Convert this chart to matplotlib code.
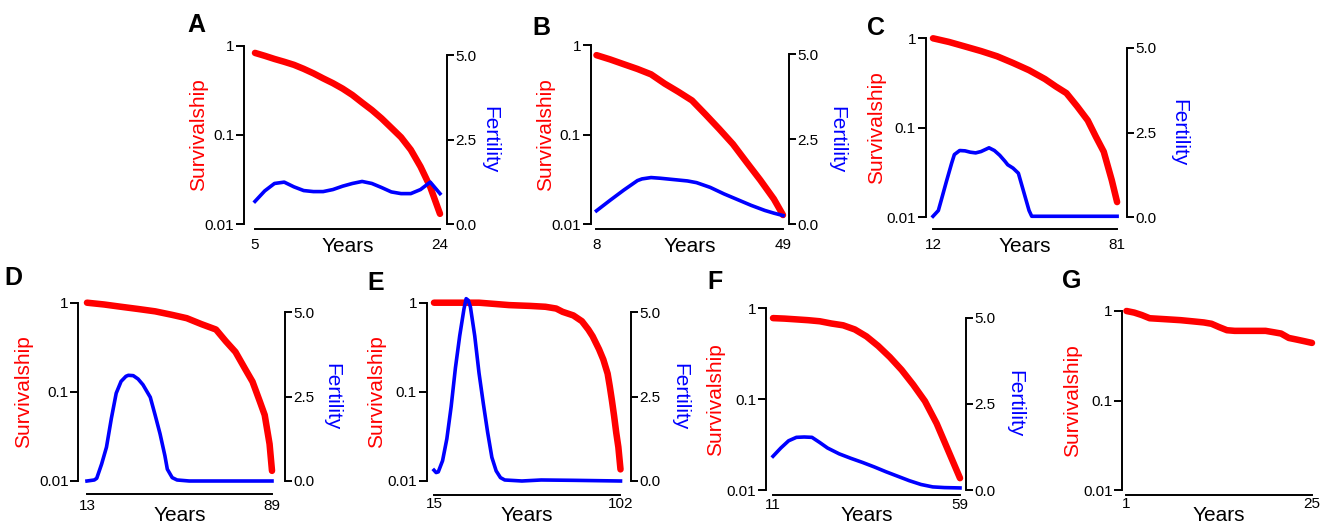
import numpy as np
import matplotlib
matplotlib.use("Agg")
import matplotlib.pyplot as plt
from matplotlib.ticker import NullLocator
from matplotlib.transforms import ScaledTranslation, blended_transform_factory

plt.rcParams['font.family'] = ['Liberation Sans', 'DejaVu Sans']

# ---- data ----
# A
a_years = list(range(5, 25))
a_surv = [0.83, 0.77, 0.71, 0.66, 0.61, 0.55, 0.49, 0.43, 0.38, 0.33,
          0.28, 0.23, 0.19, 0.153, 0.12, 0.094, 0.068, 0.044, 0.026, 0.013]
a_fert = [0.67, 0.98, 1.2, 1.24, 1.1, 0.99, 0.96, 0.96, 1.02, 1.12,
          1.2, 1.26, 1.2, 1.08, 0.95, 0.9, 0.9, 1.02, 1.24, 0.9]

# B
b_surv_years = [8, 11, 14, 17, 20, 23, 26, 29, 32, 35, 38, 41, 44, 47, 49]
b_surv = [0.77, 0.69, 0.61, 0.54, 0.47, 0.37, 0.30, 0.24, 0.167, 0.115,
          0.078, 0.049, 0.031, 0.019, 0.0126]
b_fert_years = [8, 11, 14, 17, 18, 20, 22, 25, 28, 30, 33, 36, 39, 42, 45, 47, 49]
b_fert = [0.39, 0.70, 1.0, 1.28, 1.33, 1.37, 1.35, 1.31, 1.27, 1.22,
          1.08, 0.89, 0.72, 0.55, 0.4, 0.32, 0.25]

# C
c_surv_years = [12, 18, 24, 30, 36, 42, 48, 54, 58, 62, 66, 70, 73, 76, 79, 81]
c_surv = [1.0, 0.91, 0.81, 0.72, 0.63, 0.53, 0.44, 0.35, 0.29, 0.244,
          0.174, 0.121, 0.080, 0.054, 0.026, 0.0148]
c_fert_years = [12, 14, 15, 17, 19, 20, 22, 24, 26, 28, 30, 33, 35, 37, 39,
                40, 42, 44, 46, 48, 49, 60, 70, 81]
c_fert = [0.03, 0.2, 0.48, 1.05, 1.6, 1.85, 1.97, 1.96, 1.92, 1.9, 1.94,
          2.05, 1.97, 1.83, 1.65, 1.55, 1.45, 1.3, 0.75, 0.2, 0.03, 0.03, 0.03, 0.03]

# D
d_surv_years = [13, 20, 27, 34, 41, 48, 54, 60, 66, 70, 74, 78, 81, 84, 86, 88, 89]
d_surv = [1.0, 0.955, 0.90, 0.85, 0.80, 0.73, 0.67, 0.575, 0.50, 0.37,
          0.28, 0.18, 0.13, 0.078, 0.055, 0.026, 0.013]
d_fert_years = [13, 16, 17, 19, 21, 23, 25, 27, 29, 30, 32, 34, 36, 39, 41,
                43, 45, 46, 48, 50, 55, 89]
d_fert = [0.0, 0.03, 0.08, 0.5, 1.0, 1.85, 2.6, 2.95, 3.1, 3.13, 3.12, 3.02,
          2.85, 2.48, 1.95, 1.4, 0.75, 0.35, 0.1, 0.03, 0.0, 0.0]

# E
e_surv_years = [15, 25, 36, 43, 50, 60, 67, 72, 75, 80, 84, 87, 89, 92, 94,
                96, 97, 98, 99, 100, 101, 102]
e_surv = [1.0, 1.0, 1.0, 0.97, 0.94, 0.92, 0.90, 0.86, 0.79, 0.72, 0.62,
          0.50, 0.42, 0.30, 0.23, 0.16, 0.115, 0.08, 0.054, 0.035, 0.024, 0.0135]
e_fert_years = [15, 16, 17, 19, 21, 23, 25, 27, 29, 30, 31, 32, 34, 36, 38,
                40, 42, 44, 46, 48, 56, 65, 80, 102]
e_fert = [0.32, 0.25, 0.27, 0.6, 1.25, 2.2, 3.35, 4.3, 5.1, 5.4, 5.35, 5.15,
          4.3, 3.2, 2.3, 1.45, 0.7, 0.3, 0.1, 0.03, 0.0, 0.03, 0.02, 0.0]

# F
f_surv_years = [11, 14, 17, 20, 23, 26, 29, 32, 35, 38, 41, 44, 47, 50, 53, 56, 59]
f_surv = [0.78, 0.77, 0.755, 0.74, 0.72, 0.68, 0.65, 0.585, 0.49, 0.385,
          0.29, 0.21, 0.144, 0.095, 0.054, 0.027, 0.0135]
f_fert_years = [11, 13, 15, 17, 19, 21, 23, 25, 28, 31, 34, 37, 40, 43, 46,
                49, 52, 55, 59]
f_fert = [0.98, 1.22, 1.43, 1.53, 1.54, 1.53, 1.38, 1.22, 1.05, 0.92, 0.8,
          0.67, 0.53, 0.4, 0.27, 0.16, 0.09, 0.07, 0.06]

# G (no fertility)
g_years = list(range(1, 26))
g_surv = [1.0, 0.96, 0.9, 0.83, 0.82, 0.81, 0.80, 0.79, 0.775, 0.76, 0.745,
          0.72, 0.66, 0.61, 0.6, 0.6, 0.6, 0.6, 0.6, 0.58, 0.56, 0.5, 0.48,
          0.46, 0.44]

panels = [
    ("A", a_years, a_surv, a_years, a_fert),
    ("B", b_surv_years, b_surv, b_fert_years, b_fert),
    ("C", c_surv_years, c_surv, c_fert_years, c_fert),
    ("D", d_surv_years, d_surv, d_fert_years, d_fert),
    ("E", e_surv_years, e_surv, e_fert_years, e_fert),
    ("F", f_surv_years, f_surv, f_fert_years, f_fert),
    ("G", g_years, g_surv, None, None),
]

# layout in pixels: axes box (x0, x1, ytop, ybot), xlim, spine offset, tick pad,
# survivalship offset, fertility offset, letter (x, baseline), Years baseline
layout = {
    "A": ((244, 447, 45.7, 224), (3.87, 24.72), 5, 9, 36, 33, (187, 32), 252),
    "B": ((590.7, 789, 45, 224), (6.73, 50.32), 5, 9, 36, 38, (532, 35), 252),
    "C": ((925.7, 1126.7, 38.3, 217.3), (9.26, 84.6), 12, 9, 40, 43, (867, 35), 252),
    "D": ((78.3, 285, 302.7, 481), (9.43, 94.34), 13, 5.5, 45, 37, (4, 285), 521),
    "E": ((426.7, 631, 302.7, 481), (11.6, 106.9), 14, 2.5, 41, 39, (367, 290), 521),
    "F": ((766, 966, 308.3, 490), (9.2, 60.54), 5, 3, 41, 39, (707, 289), 521),
    "G": ((1122.3, 1318, 311, 490), (0.46, 25.78), 5, 2.5, 40, 0, (1062, 288), 521),
}

W, H = 1330, 525
fig = plt.figure(figsize=(W / 100, H / 100), dpi=100)
red = '#ff0000'
blue = '#0000ff'

for name, sx, sy, fx, fy in panels:
    (x0p, x1p, ytp, ybp), xlim, out, pad, soff, foff, (lx, ly), yb = layout[name]
    ax = fig.add_axes([x0p / W, 1 - ybp / H, (x1p - x0p) / W, (ybp - ytp) / H])
    ax.set_yscale('log')
    ax.set_ylim(0.01, 1)
    ax.set_xlim(*xlim)
    ax.plot(sx, sy, color=red, lw=4.7, solid_capstyle='round', clip_on=False, zorder=3)

    for s in ['top', 'right']:
        ax.spines[s].set_visible(False)
    ax.spines['left'].set_linewidth(1.4)
    ax.spines['bottom'].set_linewidth(1.4)
    ax.spines['bottom'].set_position(('outward', out * 0.72))
    ax.spines['bottom'].set_bounds(sx[0], sx[-1])

    ax.set_yticks([0.01, 0.1, 1])
    ax.set_yticklabels(['0.01', '0.1', '1'])
    ax.yaxis.set_minor_locator(NullLocator())
    ax.tick_params(axis='y', length=6, width=1.4, pad=1, labelsize=11)
    ax.set_xticks([sx[0], sx[-1]])
    ax.set_xticklabels([str(sx[0]), str(sx[-1])])
    ax.tick_params(axis='x', length=0, pad=pad * 0.72, labelsize=11)

    ax.set_xlabel('Years', fontsize=15, va='baseline')
    ax.xaxis.set_label_coords((sx[0] + sx[-1]) / 2, 1 - yb / H,
                              transform=blended_transform_factory(ax.transData, fig.transFigure))
    ax.set_ylabel('Survivalship', color=red, fontsize=15)
    ax.yaxis.set_label_coords(0, 0.5, transform=ax.transAxes +
                              ScaledTranslation(-soff / 100, 0, fig.dpi_scale_trans))

    if fx is not None:
        ax2 = ax.twinx()
        ax2.set_ylim(0, 5.28)
        ax2.plot(fx, fy, color=blue, lw=2.6, clip_on=False)
        for s in ['top', 'left', 'bottom']:
            ax2.spines[s].set_visible(False)
        ax2.spines['right'].set_linewidth(1.4)
        ax2.spines['right'].set_bounds(0, 5)
        ax2.set_yticks([0, 2.5, 5])
        ax2.set_yticklabels(['0.0', '2.5', '5.0'])
        ax2.tick_params(axis='y', length=5, width=1.4, pad=1, labelsize=11)
        ax2.set_ylabel('Fertility', color=blue, fontsize=15, rotation=270, va='bottom')
        ax2.yaxis.set_label_coords(1, 2.5, transform=blended_transform_factory(ax2.transAxes, ax2.transData) +
                                   ScaledTranslation(foff / 100, 0, fig.dpi_scale_trans))

    fig.text(lx / W, 1 - ly / H, name, fontsize=18, fontweight='bold',
             ha='left', va='baseline')

fig.savefig('out.png', dpi=100)
